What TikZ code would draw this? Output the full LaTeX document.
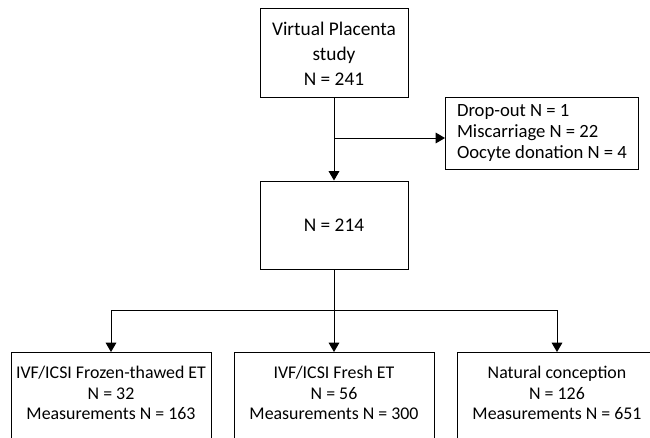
\documentclass[tikz,border=0pt]{standalone}
\usepackage{fontspec}
\setmainfont{Carlito}
\usetikzlibrary{positioning,arrows.meta}

\tikzset{
  box/.style={draw, line width=0.75pt, align=center, font=\fontsize{13.4}{15.6}\selectfont},
  groupbox/.style={box, anchor=north, minimum width=150pt, inner ysep=10pt, text depth=60pt},
  arr/.style={line width=0.75pt, -{Triangle[length=7pt,width=8pt]}}
}

\begin{document}
\begin{tikzpicture}[x=1pt,y=1pt]
\useasboundingbox (0,0) rectangle (487.5,-327.75);
\clip (0,0) rectangle (487.5,-327.75);

%%%%%%%%%%%%%%% cohort %%%%%%%%%%%%%%%%
\node[box, minimum width=111pt, minimum height=66.75pt, font=\fontsize{14.5}{18.75}\selectfont] (study) at (250.5,-40.1) {Virtual Placenta\\study\\N = 241};
\node[box, minimum width=111pt, minimum height=66pt, font=\fontsize{14.5}{17}\selectfont] (total) at (250.5,-168.75) {N = 214};
\node[box, align=left, anchor=west, minimum width=144.75pt, minimum height=54pt, font=\fontsize{14}{16.1}\selectfont] (excl) at (333.75,-99.75) {Drop-out N = 1\\Miscarriage N = 22\\Oocyte donation N = 4};

\coordinate (split) at (250.5,-103.5);
\draw[arr] (study) -- (total);
\draw[arr] (split) -- (excl.west |- split);

%%%%%%%%%%%%%%% groups %%%%%%%%%%%%%%%%
\node[groupbox] (frozen) at (83.25,-264) {IVF/ICSI Frozen-thawed ET\\N = 32\\Measurements N = 163};
\node[groupbox] (fresh) at (250.5,-264) {IVF/ICSI Fresh ET\\N = 56\\Measurements N = 300};
\node[groupbox] (natural) at (417.75,-264) {Natural conception\\N = 126\\Measurements N = 651};

\coordinate (fork) at (250.5,-232.5);
\draw[arr] (total) -- (fresh);
\foreach \g in {frozen,natural}
	\draw[arr] (fork) -| (\g);

\end{tikzpicture}
\end{document}
